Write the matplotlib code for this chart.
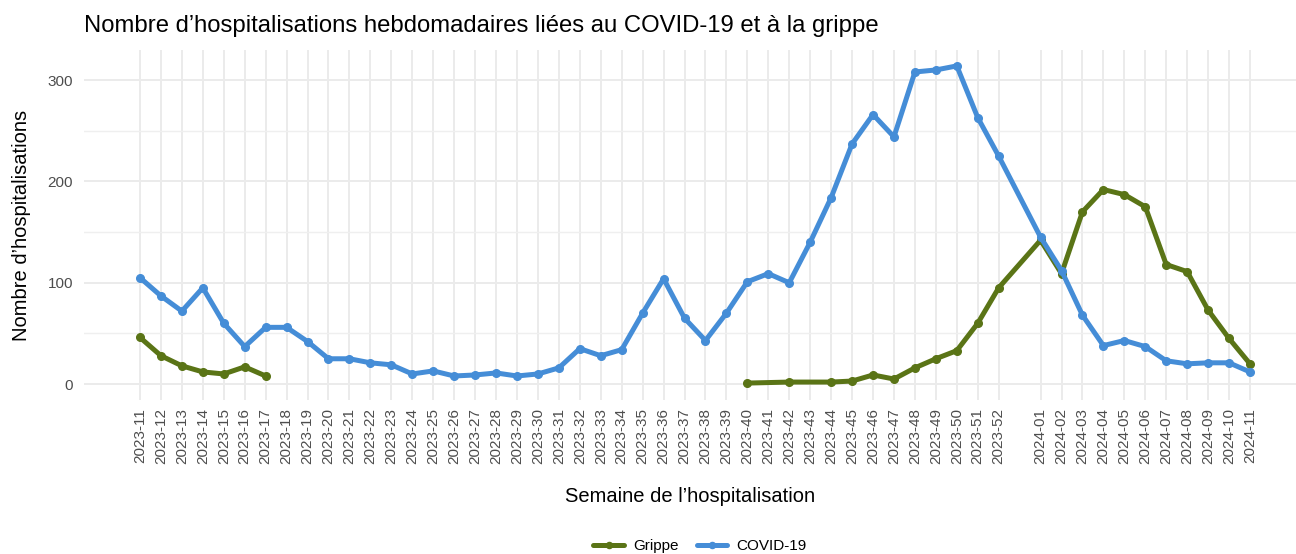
import numpy as np
import matplotlib
matplotlib.use("Agg")
import matplotlib.pyplot as plt
from matplotlib.ticker import MultipleLocator

plt.rcParams['font.family'] = ['Liberation Sans', 'DejaVu Sans']

# ---- data ----
weeks = ([f"2023-{w:02d}" for w in range(11, 53)] +
         [f"2024-{w:02d}" for w in range(1, 12)])

covid = [105, 87, 72, 95, 60, 37, 56, 56, 42, 25,
         25, 21, 19, 10, 13, 8, 9, 11, 8, 10,
         16, 35, 28, 34, 70, 104, 65, 43, 70, 101,
         109, 100, 140, 184, 237, 266, 244, 308, 310, 314,
         263, 225,
         145, 112, 68, 38, 43, 37, 23, 20, 21, 21, 12]

grippe = [46, 28, 18, 12, 10, 17, 8,
          None, None, None, None, None, None, None, None, None, None,
          None, None, None, None, None, None, None, None, None, None,
          None, None,
          1, None, 2, None, 2, 3, 9, 5, 16, 25, 33, 60, 95,
          142, 109, 170, 192, 187, 175, 118, 111, 73, 45, 20]

season_break = "2023-40"  # grippe surveillance seasons

title = "Nombre d\u2019hospitalisations hebdomadaires liées au COVID-19 et à la grippe"
xlabel = "Semaine de l\u2019hospitalisation"
ylabel = "Nombre d\u2019hospitalisations"

col_grippe = "#5a7416"
col_covid = "#458dd7"

# position of a week label on a week-of-year scale (53 slots per year)
def week_pos(lbl):
    y, w = lbl.split("-")
    return (int(y) - 2023) * 53 + int(w)

xpos = np.array([week_pos(w) for w in weeks], dtype=float)

fig = plt.figure(figsize=(12.96, 5.54), dpi=100)
W, H = 1296, 554
ax = fig.add_axes([84 / W, 1 - 400 / H, (W - 84) / W, 350 / H])

x0, x1 = xpos.min(), xpos.max()
pxu = (1250 - 140) / (x1 - x0)
ax.set_xlim(x0 - 56 / pxu, x0 + (W - 140) / pxu)
ax.set_ylim(-15.7, 329.7)

# grid
ax.set_yticks([0, 100, 200, 300])
ax.yaxis.set_minor_locator(MultipleLocator(50))
ax.grid(which='major', axis='both', color='#ebebeb', lw=1.4, zorder=0)
ax.grid(which='minor', axis='y', color='#efefef', lw=1.0, zorder=0)
for s in ax.spines.values():
    s.set_visible(False)
ax.tick_params(which='both', length=0)
ax.set_xticks(xpos)
ax.set_xticklabels(weeks, rotation=90, fontsize=11, color='#4d4d4d')
ax.tick_params(axis='x', pad=6)
ax.tick_params(axis='y', labelsize=11, labelcolor='#4d4d4d', pad=8)

# grippe drawn as seasons, connecting across missing weeks within a season
brk = week_pos(season_break)
g = np.array([np.nan if v is None else v for v in grippe], dtype=float)
for mask in (xpos < brk, xpos >= brk):
    m = mask & ~np.isnan(g)
    ax.plot(xpos[m], g[m], color=col_grippe, lw=3.6, marker='o', ms=5.5,
            solid_capstyle='round', zorder=3,
            label='Grippe' if mask[0] else None)
ax.plot(xpos, covid, color=col_covid, lw=3.6, marker='o', ms=5.5,
        solid_capstyle='round', zorder=3, label='COVID-19')

ax.set_xlabel(xlabel, fontsize=14.5, labelpad=16)
ax.set_ylabel(ylabel, fontsize=14.5, labelpad=12)
fig.text(84 / W, 1 - 26 / H, title, fontsize=17.2, ha='left', va='center')

h, l = ax.get_legend_handles_labels()
fig.legend(h, l, loc='center', bbox_to_anchor=(700 / W, 1 - 546 / H), ncol=2,
           frameon=False, fontsize=11, handlelength=2.0, columnspacing=1.2,
           handletextpad=0.6, markerscale=0.8)

fig.savefig("out.png", dpi=100)
